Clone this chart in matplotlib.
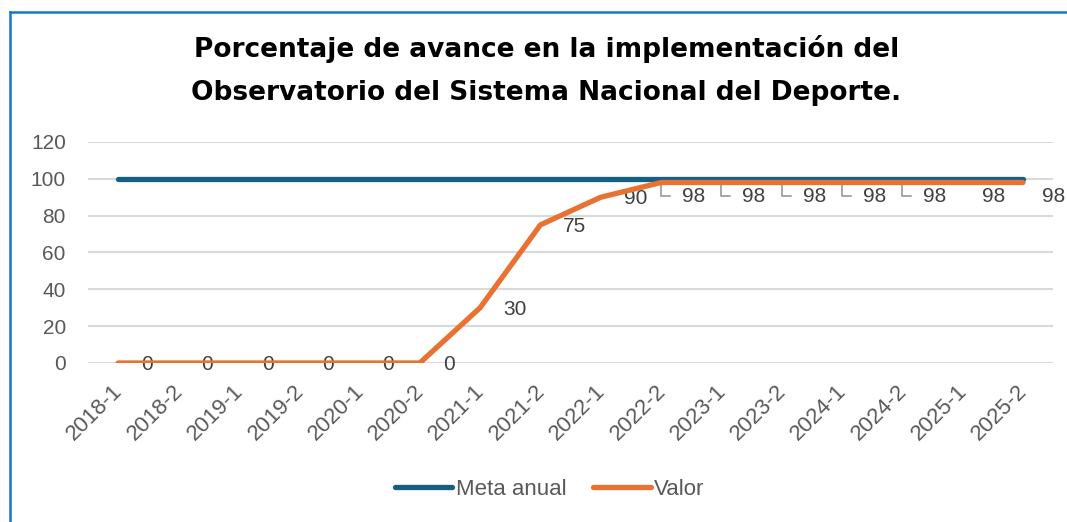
import matplotlib
matplotlib.use("Agg")
import matplotlib.pyplot as plt
import matplotlib.transforms as mtransforms
from matplotlib.lines import Line2D

periodos = ["2018-1", "2018-2", "2019-1", "2019-2", "2020-1", "2020-2",
            "2021-1", "2021-2", "2022-1", "2022-2", "2023-1", "2023-2",
            "2024-1", "2024-2", "2025-1", "2025-2"]
meta_anual = [100] * 16
valor = [0, 0, 0, 0, 0, 0, 30, 75, 90, 98, 98, 98, 98, 98, 98, 98]
con_guia = [9, 10, 11, 12, 13]  # labels drawn with a leader line
debajo = [14, 15]               # labels pushed below the lines

titulo = ("Porcentaje de avance en la implementación del\n"
          "Observatorio del Sistema Nacional del Deporte.")

azul = "#156082"
naranja = "#E97132"
gris = "#595959"
fuente = "Liberation Sans"

fig = plt.figure(figsize=(10.67, 5.22), dpi=100)
ax = fig.add_axes([0.0825, 0.3046, 0.9045, 0.4234])

x = list(range(len(periodos)))
ax.plot(x, meta_anual, color=azul, lw=3.8, solid_capstyle="round",
        label="Meta anual", zorder=3)
ax.plot(x, valor, color=naranja, lw=3.8, solid_capstyle="round",
        label="Valor", zorder=4)

for i, v in enumerate(valor):
    estilo = dict(textcoords="offset points", fontsize=15, color="#404040",
                  family=fuente, annotation_clip=False, va="center",
                  ha="left")
    if i in con_guia:
        ax.annotate(str(v), xy=(i, v), xytext=(15, -10),
                    arrowprops=dict(arrowstyle="-", color="#a6a6a6", lw=1.4,
                                    connectionstyle="angle,angleA=0,angleB=90,rad=0",
                                    relpos=(0, 0.5), shrinkA=6.5, shrinkB=0),
                    **estilo)
    elif i in debajo:
        ax.annotate(str(v), xy=(i, v), xytext=(14, -10), **estilo)
    else:
        ax.annotate(str(v), xy=(i, v), xytext=(16.5, -1), **estilo)

ax.set_xlim(-0.5, len(periodos) - 0.5)
ax.set_ylim(0, 120)
ax.set_yticks(range(0, 121, 20))
ax.set_xticks(x)
ax.set_xticklabels(periodos, rotation=45, ha="right", va="top",
                   rotation_mode="anchor")
ax.tick_params(length=0, labelcolor=gris)
ax.tick_params(axis="x", labelsize=16, pad=9)
ax.tick_params(axis="y", labelsize=15, pad=16)
desplazar = mtransforms.ScaledTranslation(-6 / 100, -5 / 100, fig.dpi_scale_trans)
for lab in ax.get_xticklabels():
    lab.set_transform(lab.get_transform() + desplazar)
for lab in ax.get_xticklabels() + ax.get_yticklabels():
    lab.set_family(fuente)
ax.grid(axis="y", color="#d9d9d9", lw=1.5)
ax.set_axisbelow(True)
for s in ax.spines.values():
    s.set_visible(False)

fig.text(0.512, 0.864, titulo, ha="center", va="center", fontsize=19,
         fontweight="bold", linespacing=1.85, family="DejaVu Sans")

fig.legend(loc="center", bbox_to_anchor=(0.515, 0.062), ncol=2,
           frameon=False, handlelength=2.6, columnspacing=1.2,
           handletextpad=0.15, prop={"family": fuente, "size": 16},
           labelcolor=gris)

borde = "#1a73d0"
fig.add_artist(Line2D([10 / 1067, 1], [1 - 12 / 522, 1 - 12 / 522],
                      transform=fig.transFigure, color=borde, lw=1.8))
fig.add_artist(Line2D([10 / 1067, 10 / 1067], [0, 1 - 12 / 522],
                      transform=fig.transFigure, color=borde, lw=1.8))

fig.savefig("out.png", dpi=100)
plt.close(fig)
